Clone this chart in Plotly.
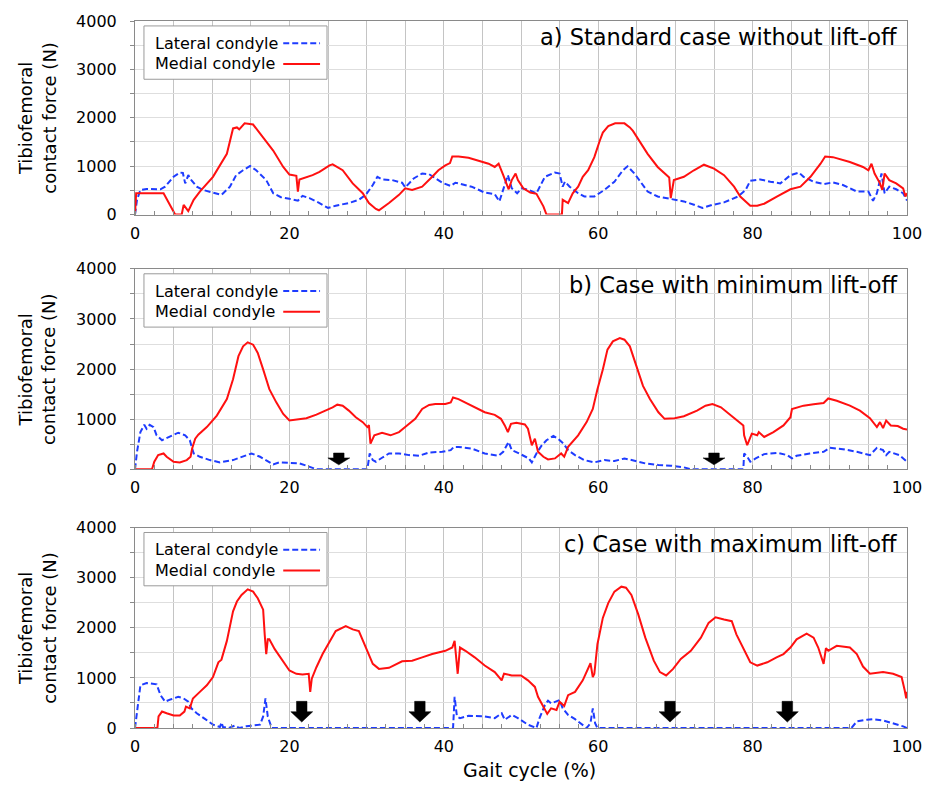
import plotly.graph_objects as go

# ---------------- data ----------------
# Gait cycle (%) vs tibiofemoral contact force (N)
a_medial = [(0,0),(0.15,440),(0.5,440),(3.7,440),(5.2,0),(6.05,0),(6.3,200),(6.9,70),(7.6,305),(8.4,475),
            (10.1,780),(11.9,1254),(12.7,1780),(13.2,1800),(13.5,1760),(14.2,1885),(15.3,1860),(16.6,1593),
            (17.9,1322),(19.2,983),(20.0,827),(20.9,800),(21.1,475),(21.3,725),(23.0,814),(23.9,881),
            (25.2,1017),(25.6,1037),(26.9,915),(28.2,644),(29.5,440),(30.3,237),(31.2,115),(31.6,88),
            (32.9,237),(34.2,407),(35.0,542),(35.9,508),(37.2,576),(38.5,780),(39.3,915),(40.2,1017),
            (40.8,1064),(41.1,1200),(41.9,1200),(43.2,1173),(44.5,1105),(45.8,1050),(46.6,983),(47.1,1050),
            (47.7,814),(48.4,522),(48.8,712),(49.3,848),(49.6,712),(50.3,542),(51.2,454),(52.0,427),
            (52.9,170),(53.3,0),(55.3,0),(55.4,305),(56.1,237),(56.7,440),(57.4,576),(58.0,780),(58.7,915),
            (59.5,1186),(60.2,1525),(60.6,1695),(61.3,1830),(62.2,1885),(63.4,1885),(64.1,1800),(64.5,1729),
            (65.3,1525),(66.4,1254),(67.7,983),(68.8,814),(69.2,766),(69.4,339),(69.8,712),(71.1,780),
            (72.4,915),(73.7,1030),(75.0,949),(76.3,814),(77.6,576),(78.4,373),(79.3,237),(79.7,183),
            (80.6,183),(81.5,224),(83.2,373),(84.9,522),(86.2,576),(87.5,780),(88.8,1050),(89.4,1200),
            (90.4,1186),(92.6,1085),(94.3,983),(95.0,915),(95.4,1050),(95.8,848),(96.5,644),(96.8,508),
            (97.1,848),(97.7,712),(98.6,644),(99.5,542),(99.8,373),(100,440)]

a_lateral = [(0,0),(0.26,305),(0.7,508),(1.5,529),(3.3,522),(3.9,576),(5.0,780),(5.8,868),(6.2,860),
             (6.5,644),(6.9,814),(7.3,712),(8.0,576),(8.8,508),(10.1,454),(11.2,407),(12.3,576),(13.1,814),
             (14.0,915),(14.9,1003),(15.7,915),(17.0,712),(17.9,440),(18.9,359),(20.0,325),(21.1,285),
             (21.7,386),(22.6,339),(23.9,237),(25.0,136),(26.0,183),(27.7,237),(29.0,305),(29.9,407),
             (30.8,610),(31.4,780),(32.0,725),(33.3,712),(34.6,658),(35.0,560),(36.1,746),(37.2,848),
             (38.1,834),(38.9,746),(39.8,658),(40.9,590),(41.5,658),(41.9,644),(43.6,576),(45.3,454),
             (46.6,420),(47.2,271),(47.7,542),(48.3,814),(48.8,542),(49.5,440),(50.1,542),(51.0,508),
             (52.0,440),(52.7,644),(53.1,780),(54.4,868),(55.0,848),(55.4,576),(55.7,680),(56.3,576),
             (57.4,440),(58.2,373),(59.5,373),(60.8,508),(62.1,678),(63.2,915),(63.8,997),(64.7,848),
             (65.6,644),(66.4,475),(67.7,373),(69.4,325),(71.1,271),(72.4,203),(73.5,136),(74.6,190),
             (76.3,251),(78.1,373),(79.1,508),(79.7,698),(81.0,725),(82.3,678),(83.6,644),(84.9,814),
             (86.0,868),(86.6,780),(87.9,678),(89.2,630),(90.4,664),(91.7,610),(93.5,475),(95.0,475),
             (95.6,285),(96.1,440),(96.7,848),(97.1,440),(97.7,576),(98.6,522),(99.5,440),(100,291)]

b_medial = [(0,0),(2.2,0),(2.5,151),(3.0,283),(3.7,316),(4.1,250),(5.0,151),(5.8,138),(6.7,184),(7.2,250),
            (7.4,414),(7.8,612),(8.2,691),(9.3,842),(10.6,1072),(11.9,1401),(12.7,1796),(13.4,2257),
            (14.0,2454),(14.6,2533),(15.3,2487),(15.9,2322),(16.6,1993),(17.4,1599),(18.3,1336),(19.2,1105),
            (20.0,974),(20.9,993),(22.2,1020),(23.5,1092),(24.7,1171),(25.6,1237),(26.2,1290),(26.9,1270),
            (27.7,1171),(28.6,1039),(29.5,941),(30.1,842),(30.3,880),(30.5,513),(31.0,678),(32.0,730),
            (33.1,678),(34.2,743),(35.0,842),(36.3,1007),(37.2,1204),(38.1,1283),(38.9,1303),(40.2,1303),
            (40.9,1336),(41.2,1434),(41.9,1401),(43.6,1270),(45.3,1138),(46.6,1086),(47.4,1007),(47.9,875),
            (48.3,743),(48.7,908),(49.4,928),(50.5,895),(50.9,809),(51.4,480),(51.8,612),(52.2,349),
            (52.9,250),(53.5,197),(54.4,217),(55.2,316),(55.6,250),(56.1,447),(57.4,678),(58.5,941),
            (59.3,1204),(59.9,1599),(60.6,1993),(61.2,2388),(61.9,2553),(62.8,2619),(63.4,2586),(64.1,2454),
            (64.9,2059),(65.8,1664),(66.7,1401),(67.8,1138),(68.6,1007),(69.9,1020),(71.1,1059),(72.8,1171),
            (73.9,1270),(74.8,1303),(75.9,1237),(76.9,1105),(78.0,974),(78.8,875),(78.9,678),(79.3,480),
            (79.6,612),(79.9,711),(80.6,678),(80.8,743),(81.5,645),(82.7,743),(84.0,875),(84.9,1039),
            (85.1,1204),(86.6,1270),(87.9,1296),(89.2,1322),(89.8,1414),(90.9,1368),(92.6,1270),(93.9,1171),
            (95.2,1020),(96.1,842),(96.5,941),(96.9,822),(97.3,974),(97.9,875),(98.8,862),(99.5,809),(100,796)]

b_lateral = [(0,0),(0.26,349),(0.7,743),(1.2,888),(1.5,809),(1.9,888),(2.4,842),(2.8,678),(3.5,579),
             (4.6,665),(5.6,730),(6.5,678),(7.1,579),(7.6,316),(8.4,250),(9.7,184),(11.0,138),(12.7,184),
             (14.0,250),(15.1,316),(16.2,250),(17.0,184),(17.9,99),(18.7,138),(20.0,132),(21.3,118),
             (22.2,72),(23.5,0),(30.1,0),(30.4,316),(30.8,184),(31.2,151),(32.0,230),(32.9,316),(34.2,316),
             (35.5,283),(36.8,270),(38.1,336),(39.8,349),(40.9,382),(41.3,447),(41.9,447),(43.6,414),
             (45.3,316),(47.1,270),(47.7,349),(48.4,546),(48.8,382),(49.6,329),(51.0,217),(51.4,138),
             (52.0,316),(52.7,480),(53.3,579),(54.2,665),(54.8,612),(55.5,513),(56.1,382),(57.0,283),
             (58.2,184),(59.5,138),(60.8,184),(62.1,164),(63.4,217),(64.7,171),(66.1,118),(67.8,86),
             (69.4,72),(71.1,39),(72.0,0),(78.8,0),(78.9,316),(79.3,250),(79.7,151),(80.4,217),(81.5,303),
             (83.2,329),(84.5,283),(85.1,217),(85.7,270),(87.4,316),(89.2,349),(90.0,428),(91.7,401),
             (93.5,349),(95.2,283),(96.1,428),(96.9,382),(97.3,283),(97.7,349),(99.0,283),(100,151)]

c_medial = [(0,0),(2.9,0),(3.05,230),(3.5,328),(4.1,295),(5.0,249),(5.8,249),(6.4,328),(6.6,426),(7.1,393),
            (7.5,590),(8.0,656),(8.4,721),(9.3,852),(10.1,1016),(10.8,1311),(11.2,1364),(11.9,1738),
            (12.7,2328),(13.2,2524),(13.8,2656),(14.6,2767),(15.3,2721),(15.9,2590),(16.6,2361),(16.8,1869),
            (17.0,1475),(17.2,1770),(17.4,1770),(18.1,1574),(19.2,1311),(20.0,1147),(20.9,1082),(21.7,1069),
            (22.5,1082),(22.7,721),(22.9,984),(23.5,1213),(24.3,1475),(25.2,1705),(26.0,1934),(27.3,2033),
            (28.2,1967),(29.0,1934),(29.9,1606),(30.8,1279),(31.6,1180),(32.9,1200),(34.6,1331),(35.9,1344),
            (37.2,1410),(38.5,1475),(40.2,1541),(41.1,1606),(41.4,1738),(41.7,1279),(41.8,1082),(42.1,1606),
            (42.8,1541),(44.0,1410),(45.3,1246),(46.6,1115),(47.5,951),(47.8,1082),(48.8,1049),(50.0,1049),
            (50.9,951),(51.8,820),(52.2,623),(52.9,426),(53.4,282),(53.9,393),(54.6,361),(55.0,525),
            (55.6,439),(56.1,656),(57.0,721),(58.0,951),(58.7,1213),(59.0,1292),(59.3,1016),(59.5,1082),
            (59.9,1672),(60.6,2197),(61.3,2492),(62.1,2721),(63.0,2820),(63.6,2800),(64.3,2656),(65.2,2262),
            (66.1,1803),(67.2,1344),(68.0,1115),(68.8,1049),(69.7,1180),(70.7,1377),(72.0,1541),(73.3,1803),
            (74.3,2098),(75.2,2210),(76.3,2164),(77.3,2131),(77.9,1869),(78.9,1541),(79.7,1311),(80.6,1246),
            (81.9,1311),(83.1,1410),(84.0,1475),(84.9,1606),(85.7,1770),(87.0,1882),(87.9,1803),(88.5,1606),
            (88.8,1475),(89.2,1279),(89.5,1593),(89.8,1541),(90.9,1639),(92.6,1606),(93.5,1475),(94.3,1226),
            (95.2,1082),(95.8,1095),(96.9,1115),(98.2,1082),(99.3,1016),(99.7,754),(99.9,590),(100,721)]

c_lateral = [(0,0),(0.26,361),(0.7,852),(1.5,898),(2.8,872),(3.3,656),(3.9,525),(4.6,570),(5.6,623),
             (6.3,590),(6.9,525),(7.3,393),(8.0,295),(9.1,177),(10.1,66),(11.0,20),(11.2,111),(11.4,20),
             (12.1,0),(12.9,46),(13.5,0),(14.4,33),(15.3,46),(16.2,66),(16.6,230),(16.9,590),(17.2,230),
             (17.7,0),(41.2,0),(41.4,623),(41.7,230),(42.1,197),(43.2,243),(43.6,243),(45.3,230),(46.6,197),
             (47.5,295),(47.9,164),(48.8,262),(49.6,197),(50.9,66),(52.0,0),(52.4,197),(53.1,459),(53.5,544),
             (53.9,492),(54.6,525),(55.0,557),(55.4,393),(56.1,262),(57.0,177),(57.9,66),(58.5,0),(59.0,98),
             (59.3,393),(59.6,98),(59.9,0),(92.8,0),(93.5,131),(94.8,164),(95.6,177),(96.9,151),(98.2,98),
             (99.5,33),(100,0)]

# lift-off arrows (gait cycle %)
arrows_b = [26.4, 75.0]
arrows_c = [21.6, 36.9, 69.3, 84.5]

panel_titles = ["a) Standard case without lift-off",
                "b) Case with minimum lift-off",
                "c) Case with maximum lift-off"]
series_names = ["Lateral condyle", "Medial condyle"]
x_tickvals = list(range(0, 101, 5))
x_ticktext = [str(v) if v % 20 == 0 else "" for v in x_tickvals]
y_tickvals = list(range(0, 4001, 500))
y_ticktext = [str(v) if v % 1000 == 0 else "" for v in y_tickvals]

# ---------------- styling / layout ----------------
FONT = "DejaVu Sans"
RED = "#ff1010"
BLUE = "#1e3cff"
# the page adds an 8px body margin, so the figure is sized to fit the 934x790 window
W, H = 918, 774
ML, MT = 127, 4
PW, PH_TOT = 776, 716
MR, MB = W - ML - PW, H - MT - PH_TOT
panel_px = [(4, 200), (255, 458), (517, 720)]  # (top, bottom) in figure pixels
# arrow geometry in pixels: (tip, neck, top) heights above the axis
arrow_geom = {1: (4.5, 11.5, 16.5), 2: (6, 16.5, 27)}
HEAD_HW, SHAFT_HW = 11, 5.3

data = [(a_lateral, a_medial, []), (b_lateral, b_medial, arrows_b), (c_lateral, c_medial, arrows_c)]

fig = go.Figure()
shapes, annotations = [], []
layout = {}

for i, (lat, med, arrows) in enumerate(data):
    n = "" if i == 0 else str(i + 1)
    xid, yid = "x" + n, "y" + n
    top, bot = panel_px[i]
    ph = bot - top
    dom = [(MT + PH_TOT - bot) / PH_TOT, (MT + PH_TOT - top) / PH_TOT]

    fig.add_trace(go.Scatter(x=[p[0] for p in lat], y=[p[1] for p in lat], mode="lines",
                             line=dict(color=BLUE, width=2, dash="6px,3px"),
                             xaxis=xid, yaxis=yid, showlegend=False, name=series_names[0]))
    fig.add_trace(go.Scatter(x=[p[0] for p in med], y=[p[1] for p in med], mode="lines",
                             line=dict(color=RED, width=2),
                             xaxis=xid, yaxis=yid, showlegend=False, name=series_names[1]))

    layout["xaxis" + n] = dict(
        domain=[0, 1], anchor=yid, range=[0, 100], tickmode="array",
        tickvals=x_tickvals, ticktext=x_ticktext, showgrid=True, gridcolor="#c4c4c4", gridwidth=1,
        showline=True, mirror=True, linecolor="#8a8a8a", linewidth=1, ticks="", zeroline=False,
        ticklabelstandoff=4, ticklabeloverflow="allow",
        tickfont=dict(family=FONT, size=16, color="black"),
        minor=dict(tickmode="linear", tick0=0, dtick=2.5, ticks="inside", ticklen=4,
                   tickcolor="#8a8a8a", showgrid=False))
    layout["yaxis" + n] = dict(
        domain=dom, anchor=xid, range=[0, 4000], tickmode="array",
        tickvals=y_tickvals, ticktext=y_ticktext, showgrid=True, gridcolor="#dedede", gridwidth=1,
        showline=True, mirror=True, linecolor="#8a8a8a", linewidth=1, ticks="outside", ticklen=4,
        tickcolor="#8a8a8a", zeroline=False, ticklabelstandoff=10, ticklabeloverflow="allow",
        tickfont=dict(family=FONT, size=16, color="black"))

    # panel title
    annotations.append(dict(text=panel_titles[i], xref=xid + " domain", yref=yid + " domain",
                            x=1, y=1, xanchor="right", yanchor="middle", xshift=-8, yshift=-16,
                            showarrow=False, font=dict(family=FONT, size=22.5, color="black")))
    # y title
    annotations.append(dict(text="Tibiofemoral<br>contact force (N)", xref="paper",
                            yref=yid + " domain", x=0, y=0.5, xshift=-98, xanchor="center",
                            yanchor="middle", textangle=-90, showarrow=False,
                            font=dict(family=FONT, size=18, color="black")))

    # manual legend (text left, symbol right)
    def fx(px):
        return px / PW

    def fy(px, ph=ph):
        return 1 - px / ph

    shapes.append(dict(type="rect", xref=xid + " domain", yref=yid + " domain",
                       x0=fx(9), x1=fx(193), y0=fy(59), y1=fy(5),
                       line=dict(color="#9a9a9a", width=1), fillcolor="white", layer="above"))
    for row, (name, col, dash) in enumerate([(series_names[0], BLUE, "6px,3px"),
                                              (series_names[1], RED, "solid")]):
        yy = fy(22.5 + 21 * row)
        shapes.append(dict(type="line", xref=xid + " domain", yref=yid + " domain",
                           x0=fx(149), x1=fx(186), y0=yy, y1=yy,
                           line=dict(color=col, width=2, dash=dash), layer="above"))
        annotations.append(dict(text=name, xref=xid + " domain", yref=yid + " domain",
                                x=fx(18), y=yy, xanchor="left", yanchor="middle", showarrow=False,
                                font=dict(family=FONT, size=16, color="black")))

    # lift-off arrows (block arrows pointing down)
    if arrows:
        tip_px, neck_px, top_px = arrow_geom[i]
        ux = 100.0 / PW      # data units per pixel, x
        uy = 4000.0 / ph     # data units per pixel, y
        for xc in arrows:
            pts = [(xc - SHAFT_HW * ux, top_px * uy), (xc + SHAFT_HW * ux, top_px * uy),
                   (xc + SHAFT_HW * ux, neck_px * uy), (xc + HEAD_HW * ux, neck_px * uy),
                   (xc, tip_px * uy), (xc - HEAD_HW * ux, neck_px * uy),
                   (xc - SHAFT_HW * ux, neck_px * uy)]
            path = "M " + " L ".join(f"{px:.3f},{py:.2f}" for px, py in pts) + " Z"
            shapes.append(dict(type="path", path=path, xref=xid, yref=yid,
                               fillcolor="black", line=dict(color="black", width=0.5),
                               layer="above"))

annotations.append(dict(text="Gait cycle (%)", xref="paper", yref="paper",
                        x=(523.7 - ML) / PW, y=(MT + PH_TOT - 763) / PH_TOT, xanchor="center",
                        yanchor="middle", showarrow=False,
                        font=dict(family=FONT, size=19, color="black")))

fig.update_layout(**layout)
fig.update_layout(width=W, height=H, margin=dict(l=ML, r=MR, t=MT, b=MB, pad=0),
                  paper_bgcolor="white", plot_bgcolor="white", showlegend=False,
                  shapes=shapes, annotations=annotations,
                  font=dict(family=FONT, color="black"))
fig.write_html("out.html")
